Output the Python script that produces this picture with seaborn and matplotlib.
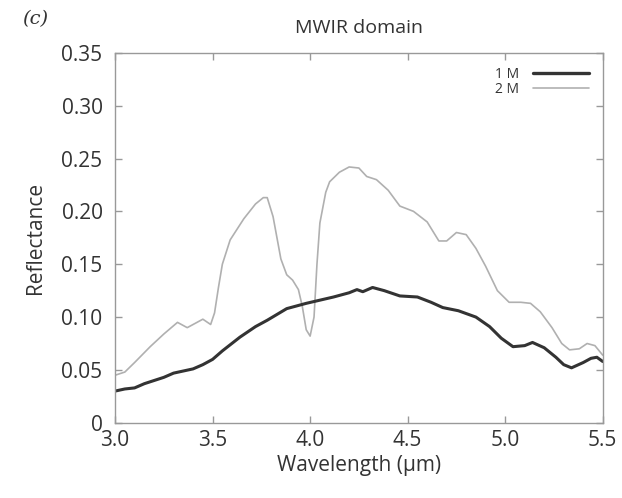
import pandas as pd
import seaborn as sns
import matplotlib.pyplot as plt
from matplotlib.lines import Line2D

# 1 M spectrum (dark, thick)
wl_1m = [3.00, 3.05, 3.10, 3.15, 3.20, 3.25, 3.30, 3.35, 3.40, 3.45, 3.50, 3.55,
         3.64, 3.72, 3.78, 3.88, 3.98, 4.05, 4.12, 4.20, 4.24, 4.27, 4.32, 4.38,
         4.46, 4.55, 4.62, 4.68, 4.76, 4.85, 4.92, 4.98, 5.04, 5.10, 5.14, 5.20,
         5.26, 5.30, 5.34, 5.40, 5.44, 5.47, 5.50]
refl_1m = [0.030, 0.032, 0.033, 0.037, 0.040, 0.043, 0.047, 0.049, 0.051, 0.055, 0.060, 0.068,
           0.081, 0.091, 0.097, 0.108, 0.113, 0.116, 0.119, 0.123, 0.126, 0.124, 0.128, 0.125,
           0.120, 0.119, 0.114, 0.109, 0.106, 0.100, 0.091, 0.080, 0.072, 0.073, 0.076, 0.071,
           0.062, 0.055, 0.052, 0.057, 0.061, 0.062, 0.058]

# 2 M spectrum (light, thin)
wl_2m = [3.00, 3.05, 3.10, 3.18, 3.25, 3.32, 3.37, 3.41, 3.45, 3.49, 3.51, 3.53,
         3.55, 3.59, 3.66, 3.72, 3.76, 3.78, 3.81, 3.85, 3.88, 3.91, 3.94, 3.96,
         3.98, 4.00, 4.02, 4.035, 4.05, 4.08, 4.10, 4.15, 4.20, 4.25, 4.29, 4.34,
         4.40, 4.46, 4.53, 4.60, 4.66, 4.70, 4.75, 4.80, 4.85, 4.90, 4.96, 5.02,
         5.08, 5.13, 5.18, 5.24, 5.29, 5.33, 5.38, 5.42, 5.46, 5.50]
refl_2m = [0.045, 0.048, 0.057, 0.072, 0.084, 0.095, 0.090, 0.094, 0.098, 0.093, 0.104, 0.128,
           0.150, 0.173, 0.193, 0.207, 0.213, 0.213, 0.195, 0.155, 0.140, 0.135, 0.126, 0.110,
           0.088, 0.082, 0.100, 0.150, 0.189, 0.218, 0.228, 0.237, 0.242, 0.241, 0.233, 0.230,
           0.220, 0.205, 0.200, 0.190, 0.172, 0.172, 0.180, 0.178, 0.165, 0.148, 0.125, 0.114,
           0.114, 0.113, 0.105, 0.090, 0.075, 0.069, 0.070, 0.075, 0.073, 0.064]

df_1m = pd.DataFrame({"wl": wl_1m, "refl": refl_1m})
df_2m = pd.DataFrame({"wl": wl_2m, "refl": refl_2m})

sns.set_style("white")
plt.rcParams["font.family"] = ["Open Sans", "DejaVu Sans"]

fig = plt.figure(figsize=(6.22, 4.98), dpi=100)
ax = fig.add_axes([0.185, 0.151, 0.784, 0.743])

sns.lineplot(data=df_2m, x="wl", y="refl", ax=ax, color="#b0b0b0", linewidth=1.2)
sns.lineplot(data=df_1m, x="wl", y="refl", ax=ax, color="#333333", linewidth=2.2)

ax.set_xlim(3.0, 5.5)
ax.set_ylim(0, 0.35)
ax.set_xticks([3.0, 3.5, 4.0, 4.5, 5.0, 5.5])
ax.set_xticklabels(["3.0", "3.5", "4.0", "4.5", "5.0", "5.5"])
ax.set_yticks([0, 0.05, 0.10, 0.15, 0.20, 0.25, 0.30, 0.35])
ax.set_yticklabels(["0", "0.05", "0.10", "0.15", "0.20", "0.25", "0.30", "0.35"])
ax.tick_params(direction="in", length=5, width=1, color="#999999", labelcolor="#333333",
               labelsize=15, top=True, right=True, bottom=True, left=True)
ax.tick_params(axis="y", pad=9)
ax.tick_params(axis="x", pad=5)
for s in ax.spines.values():
    s.set_color("#999999")
    s.set_linewidth(1)

ax.set_xlabel("Wavelength (µm)", fontsize=15, color="#333333", labelpad=3)
ax.set_ylabel("Reflectance", fontsize=15, color="#333333", labelpad=11)
ax.set_title("MWIR domain", fontsize=14, color="#333333", pad=14)
fig.text(0.035, 0.962, "(c)", fontsize=14, family="DejaVu Serif", style="italic",
         color="#333333", va="center")

handles = [Line2D([], [], color="#333333", linewidth=2.4),
           Line2D([], [], color="#b0b0b0", linewidth=1.2)]
ax.legend(handles, ["1 M", "2 M"], loc="upper right", frameon=False, markerfirst=False,
          fontsize=10, handlelength=4, handletextpad=1.0, labelspacing=0.0,
          borderaxespad=0.6, labelcolor="#333333")

fig.savefig("out.png", dpi=100, facecolor="white")
